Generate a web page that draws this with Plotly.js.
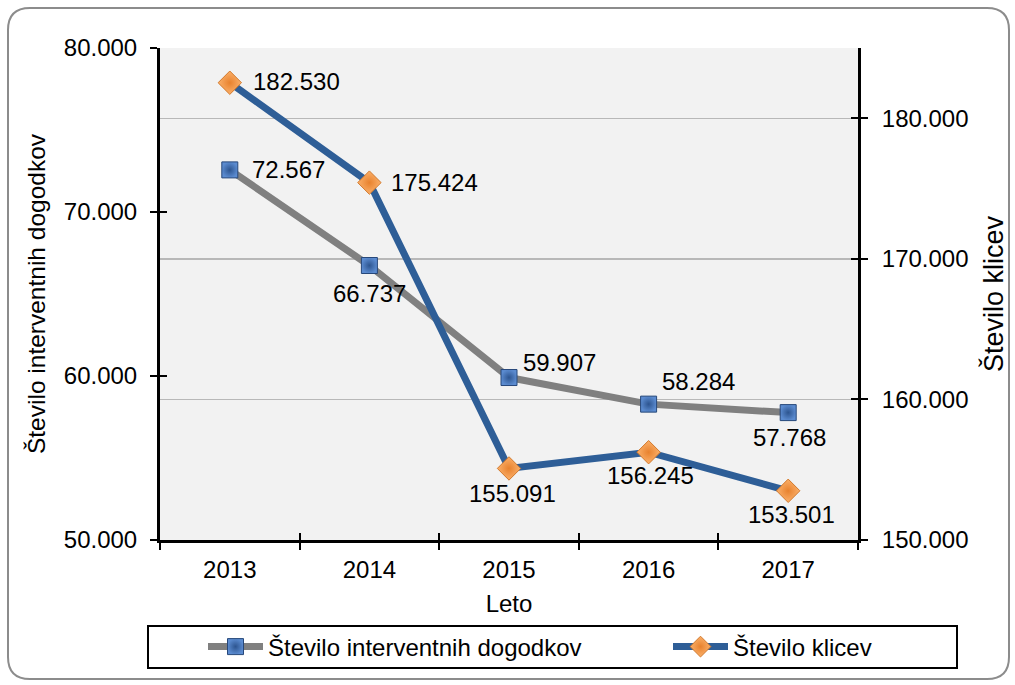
<!DOCTYPE html>
<html>
<head>
<meta charset="utf-8">
<script src="https://cdn.plot.ly/plotly-3.0.1.min.js"></script>
<style>html,body{margin:0;padding:0;background:#fff;}#chart{width:1015px;height:685px;}</style>
</head>
<body>
<div id="chart"></div>
<script>
const years = ['2013', '2014', '2015', '2016', '2017'];
const dogodki = [72567, 66737, 59907, 58284, 57768];
const klici = [182530, 175424, 155091, 156245, 153501];
const nameDogodki = 'Število interventnih dogodkov';
const nameKlici = 'Število klicev';
const titleX = 'Leto';

// label placement relative to each point: [xanchor, xshift, yshift]
const dogodkiLabelPlace = [['left', 20, 0], ['center', 0, -28], ['left', 12, 15], ['left', 11, 23], ['center', 1, -25]];
const kliciLabelPlace = [['left', 21, 1], ['left', 20, 0], ['center', 3, -25], ['center', 2, -23], ['center', 3, -24]];

const W = 1015, H = 685;
const M = {l: 160, r: 157, t: 48, b: 145, autoexpand: false};
const pw = W - M.l - M.r, ph = H - M.t - M.b;
const px = x => (x - M.l) / pw;
const py = y => (H - M.b - y) / ph;

function roundedRect(x0, y0, x1, y1, r) {
  return 'M' + px(x0 + r) + ',' + py(y0) +
    ' L' + px(x1 - r) + ',' + py(y0) +
    ' Q' + px(x1) + ',' + py(y0) + ' ' + px(x1) + ',' + py(y0 + r) +
    ' L' + px(x1) + ',' + py(y1 - r) +
    ' Q' + px(x1) + ',' + py(y1) + ' ' + px(x1 - r) + ',' + py(y1) +
    ' L' + px(x0 + r) + ',' + py(y1) +
    ' Q' + px(x0) + ',' + py(y1) + ' ' + px(x0) + ',' + py(y1 - r) +
    ' L' + px(x0) + ',' + py(y0 + r) +
    ' Q' + px(x0) + ',' + py(y0) + ' ' + px(x0 + r) + ',' + py(y0) + ' Z';
}
const fmt = n => String(n).replace(/\B(?=(\d{3})+(?!\d))/g, '.');

const FONT = 'Liberation Sans, Arial, sans-serif';
const FS = 24;
const fnt = (s) => ({family: FONT, size: s || FS, color: '#000'});

const traces = [
  {
    x: years, y: dogodki, name: nameDogodki, type: 'scatter', mode: 'lines+markers',
    legend: 'legend',
    line: {color: '#808080', width: 7},
    marker: {symbol: 'square', size: 16, color: '#5b8bd0', line: {color: '#27487a', width: 1},
             gradient: {type: 'radial', color: '#2d5590'}},
    cliponaxis: false, hoverinfo: 'skip'
  },
  {
    x: years, y: klici, name: nameKlici, type: 'scatter', mode: 'lines+markers',
    yaxis: 'y2', legend: 'legend2',
    line: {color: '#2e5e97', width: 7},
    marker: {symbol: 'diamond', size: 18, color: '#fbb06a', line: {color: '#d2792c', width: 1},
             gradient: {type: 'radial', color: '#e8822e'}},
    cliponaxis: false, hoverinfo: 'skip'
  },
  // invisible helpers carrying the inner half of the crossing tick marks
  {x: years, y: dogodki, xaxis: 'x', yaxis: 'y3', mode: 'markers', marker: {opacity: 0},
   showlegend: false, hoverinfo: 'skip'},
  {x: years, y: klici, xaxis: 'x', yaxis: 'y4', mode: 'markers', marker: {opacity: 0},
   showlegend: false, hoverinfo: 'skip'},
  {x: years, y: dogodki, xaxis: 'x2', yaxis: 'y', mode: 'markers', marker: {opacity: 0},
   showlegend: false, hoverinfo: 'skip'}
];

const annotations = [];
years.forEach((yr, i) => {
  const a = dogodkiLabelPlace[i];
  annotations.push({x: i, y: dogodki[i], xref: 'x', yref: 'y', text: fmt(dogodki[i]), showarrow: false,
    xanchor: a[0], yanchor: 'middle', xshift: a[1], yshift: a[2], font: fnt()});
  const b = kliciLabelPlace[i];
  annotations.push({x: i, y: klici[i], xref: 'x', yref: 'y2', text: fmt(klici[i]), showarrow: false,
    xanchor: b[0], yanchor: 'middle', xshift: b[1], yshift: b[2], font: fnt()});
});

const tickBase = {ticklen: 7, tickwidth: 2, tickcolor: '#000'};

const layout = {
  width: W, height: H,
  margin: M,
  separators: ',.',
  paper_bgcolor: '#ffffff',
  plot_bgcolor: '#f2f2f2',
  font: fnt(),
  showlegend: true,
  xaxis: Object.assign({
    type: 'category', tickson: 'boundaries', ticks: 'outside',
    showline: true, linecolor: '#000', linewidth: 3, showgrid: false, zeroline: false,
    tickfont: fnt(), ticklabelstandoff: 6,
    title: {text: titleX, font: fnt(), standoff: 14},
    range: [-0.5, 4.5], categoryorder: 'array', categoryarray: years
  }, tickBase),
  yaxis: Object.assign({
    range: [50000, 80000], dtick: 10000, tickformat: ',d', ticks: 'outside',
    showline: true, linecolor: '#000', linewidth: 3, showgrid: false, zeroline: false,
    tickfont: fnt(), ticklabelstandoff: 8,
    title: {text: nameDogodki, font: fnt(24.5), standoff: 12}
  }, tickBase),
  yaxis2: Object.assign({
    range: [150000, 185000], dtick: 10000, tickformat: ',d', overlaying: 'y', side: 'right',
    ticks: 'outside',
    showline: true, linecolor: '#000', linewidth: 3, showgrid: true, gridcolor: '#b8b8b8', gridwidth: 1.5,
    zeroline: false, tickfont: fnt(), ticklabelstandoff: 9,
    title: {text: nameKlici, font: fnt(27), standoff: 17}
  }, tickBase),
  xaxis2: Object.assign({
    type: 'category', overlaying: 'x', anchor: 'y', side: 'bottom', tickson: 'boundaries', ticks: 'inside',
    showticklabels: false, showline: false, showgrid: false, zeroline: false,
    range: [-0.5, 4.5], categoryorder: 'array', categoryarray: years
  }, tickBase),
  yaxis3: Object.assign({
    range: [50000, 80000], dtick: 10000, overlaying: 'y', side: 'left', anchor: 'x', ticks: 'inside',
    showticklabels: false, showline: false, showgrid: false, zeroline: false
  }, tickBase),
  yaxis4: Object.assign({
    range: [150000, 185000], dtick: 10000, overlaying: 'y', side: 'right', anchor: 'x', ticks: 'inside',
    showticklabels: false, showline: false, showgrid: false, zeroline: false
  }, tickBase),
  legend: {
    orientation: 'h', x: px(203), xanchor: 'left', y: py(647), yanchor: 'middle',
    bgcolor: 'rgba(0,0,0,0)', font: fnt(), itemwidth: 55
  },
  legend2: {
    orientation: 'h', x: px(668), xanchor: 'left', y: py(647), yanchor: 'middle',
    bgcolor: 'rgba(0,0,0,0)', font: fnt(), itemwidth: 55
  },
  annotations: annotations,
  shapes: [
    {type: 'path', xref: 'paper', yref: 'paper', path: roundedRect(8, 8, 1009, 679, 22),
     line: {color: '#8c8c8c', width: 2}, layer: 'below'},
    {type: 'rect', xref: 'paper', yref: 'paper', x0: px(148), x1: px(957), y0: py(626), y1: py(668),
     line: {color: '#000', width: 2}, layer: 'above'}
  ]
};

Plotly.newPlot('chart', traces, layout, {displayModeBar: false, staticPlot: true});
</script>
</body>
</html>
